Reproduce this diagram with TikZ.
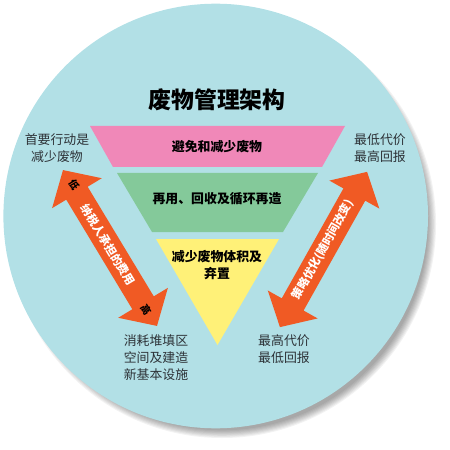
\documentclass[tikz,border=0pt]{standalone}
\usepackage{fontspec}
\setmainfont{Noto Sans CJK SC}
\usepackage{xcolor}
\usepackage{tikz}
\usetikzlibrary{positioning, calc}
\definecolor{myblue}{RGB}{178,224,230}
\definecolor{mypink}{RGB}{240,136,184}
\definecolor{mygreen}{RGB}{132,201,154}
\definecolor{myyellow}{RGB}{255,241,120}
\definecolor{myorange}{RGB}{240,90,36}
\definecolor{mytext}{RGB}{45,50,55}
\tikzset{
  layer/.style={font=\fontsize{11}{14}\selectfont\bfseries, text=black, align=center},
  side/.style={font=\fontsize{11}{14.5}\selectfont, text=mytext, align=center},
  arrowtext/.style={font=\fontsize{9.8}{11}\selectfont\bfseries, text=white},
  endmark/.style={font=\fontsize{8.5}{10}\selectfont\bfseries, text=black},
  bigarrow/.style={fill=myorange}
}
\begin{document}
\begin{tikzpicture}[x=0.3mm, y=0.3mm]
  \useasboundingbox (0,0) rectangle (450,-450);

  % soft shadow and disc
  \foreach \k in {0,...,7}
    \fill[black, opacity=0.05] (222,-224) circle ({214-\k*1.1});
  \fill[myblue] (215.7,-216) circle (212.3);

  \node[font=\fontsize{19.5}{22}\selectfont\bfseries] (title) at (217,-100) {废物管理架构};

  % inverted pyramid
  \fill[mypink] (90,-126) -- (345,-126) -- (322,-167) -- (113,-167) -- cycle;
  \fill[mygreen] (117,-173) -- (318,-173) -- (283,-232) -- (152,-232) -- cycle;
  \fill[myyellow] (156,-239) -- (279,-239) -- (217.5,-345) -- cycle;

  \node[layer] (avoid) at (217,-147) {避免和减少废物};
  \node[layer] (reuse) at (217,-199) {再用、回收及循环再造};
  \node[layer] (dispose) at (217,-265) {减少废物体积及\\弃置};

  \node[side] (first) at (57,-148) {首要行动是\\减少废物};
  \node[side] (lowcost) at (380,-148) {最低代价\\最高回报};
  \node[side] (landfill) at (156,-358) {消耗堆填区\\空间及建造\\新基本设施};
  \node[side] (highcost) at (284,-349) {最高代价\\最低回报};

  % left double arrow
  \begin{scope}[shift={(110,-248)}, rotate=-58.9]
    \fill[bigarrow] (-91,0) -- (-64,29) -- (-64,12.5) -- (64,12.5) -- (64,29) -- (91,0)
      -- (64,-29) -- (64,-12.5) -- (-64,-12.5) -- (-64,-29) -- cycle;
  \end{scope}
  \node[arrowtext, rotate=-58.9] (taxpayer) at (108,-245) {纳税人承担的费用};
  \node[endmark, rotate=-58.9] (low) at (74,-185) {低};
  \node[endmark, rotate=-58.9] (high) at (146,-310) {高};

  % right double arrow
  \begin{scope}[shift={(323.5,-249.5)}, rotate=60.7]
    \fill[bigarrow] (-89,0) -- (-63,28.6) -- (-63,12.5) -- (63,12.5) -- (63,28.6) -- (89,0)
      -- (63,-28.6) -- (63,-12.5) -- (-63,-12.5) -- (-63,-28.6) -- cycle;
  \end{scope}
  \node[arrowtext, rotate=60.7] (strategy) at (323,-250) {策略优化(随时间改变)};
\end{tikzpicture}
\end{document}
